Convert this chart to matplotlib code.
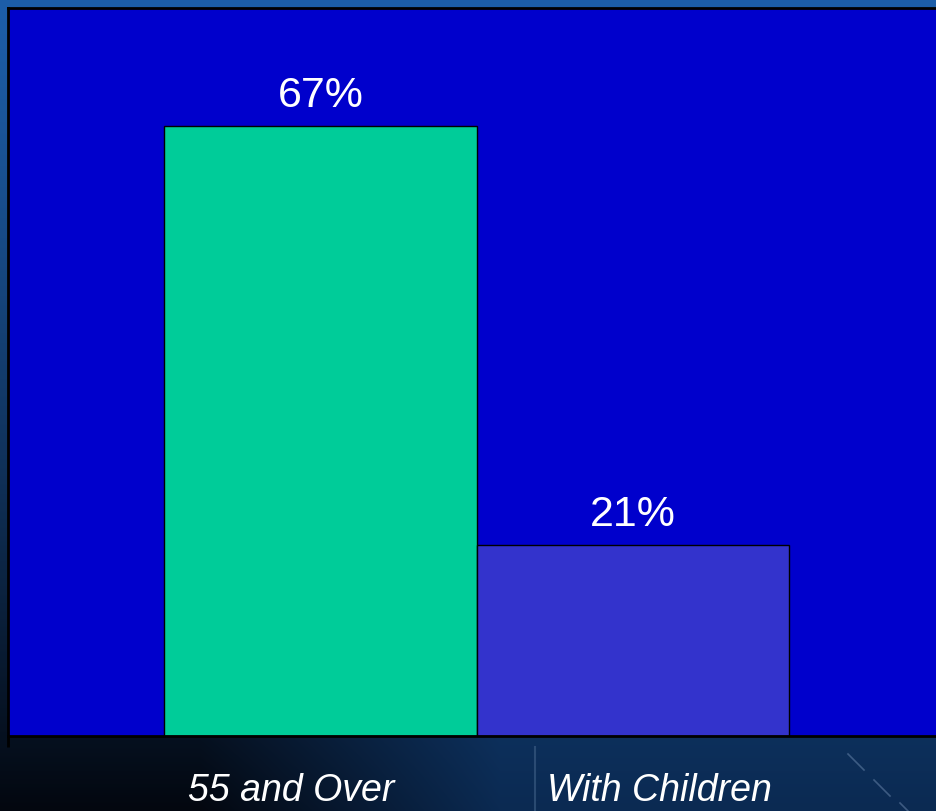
import numpy as np
import matplotlib
matplotlib.use("Agg")
import matplotlib.pyplot as plt
from matplotlib.colors import to_rgb

plt.rcParams['font.family'] = ['Liberation Sans', 'DejaVu Sans']

categories = ['55 and Over', 'With Children']
values = [67, 21]
bar_colors = ['#00CC99', '#3333CC']
label_pos = [-0.094, 1.086]

fig = plt.figure(figsize=(9.36, 8.12), dpi=100)

# slide background: blue at the top fading to near black / navy at the bottom
h, w = 812, 936
yy, xx = np.mgrid[0:h, 0:w]
t = (yy / (h - 1)) ** 1.2
top = np.array(to_rgb('#1d5ea9'))
dark = np.array(to_rgb('#03070f'))
navy = np.array(to_rgb('#0b2a52'))
s = np.clip((xx - 200) / 300.0, 0, 1)[..., None]
bottom = dark * (1 - s) + navy * s
bg = top * (1 - t[..., None]) + bottom * t[..., None]
bg_ax = fig.add_axes([0, 0, 1, 1])
bg_ax.imshow(bg, aspect='auto', extent=(0, w, h, 0))
bg_ax.plot([535, 535], [748, 812], color='#4a6a90', lw=1.5, alpha=0.5)
for x0, y0 in [(856, 763), (882, 789), (908, 812)]:
    bg_ax.plot([x0 - 8, x0 + 8], [y0 - 8, y0 + 8], color='#6f8bb0', lw=1.2, alpha=0.5)
bg_ax.set_xlim(0, w)
bg_ax.set_ylim(h, 0)
bg_ax.axis('off')

ax = fig.add_axes([8 / w, 75 / h, 937.5 / w, 728 / h])
ax.set_facecolor('#0000CC')
x = np.arange(len(values))
bars = ax.bar(x, values, width=1.0, color=bar_colors, edgecolor='black', linewidth=1)
for b, v in zip(bars, values):
    ax.text(b.get_x() + b.get_width() / 2, v + 2.2, f'{v}%', ha='center', va='baseline',
            color='white', fontsize=31)

ax.set_xlim(-1, 2)
ax.set_ylim(0, 80)
ax.set_yticks([])
ax.set_xticks(label_pos)
ax.set_xticklabels(categories, fontsize=27, style='italic', color='white')
ax.tick_params(axis='x', length=0, pad=26)
ax.set_xticks([-1.0], minor=True)
ax.tick_params(axis='x', which='minor', length=8, width=2, color='black')
for side in ['left', 'bottom', 'top']:
    ax.spines[side].set_color('black')
    ax.spines[side].set_linewidth(2)
ax.spines['right'].set_visible(False)

fig.savefig('out.png', dpi=100)
